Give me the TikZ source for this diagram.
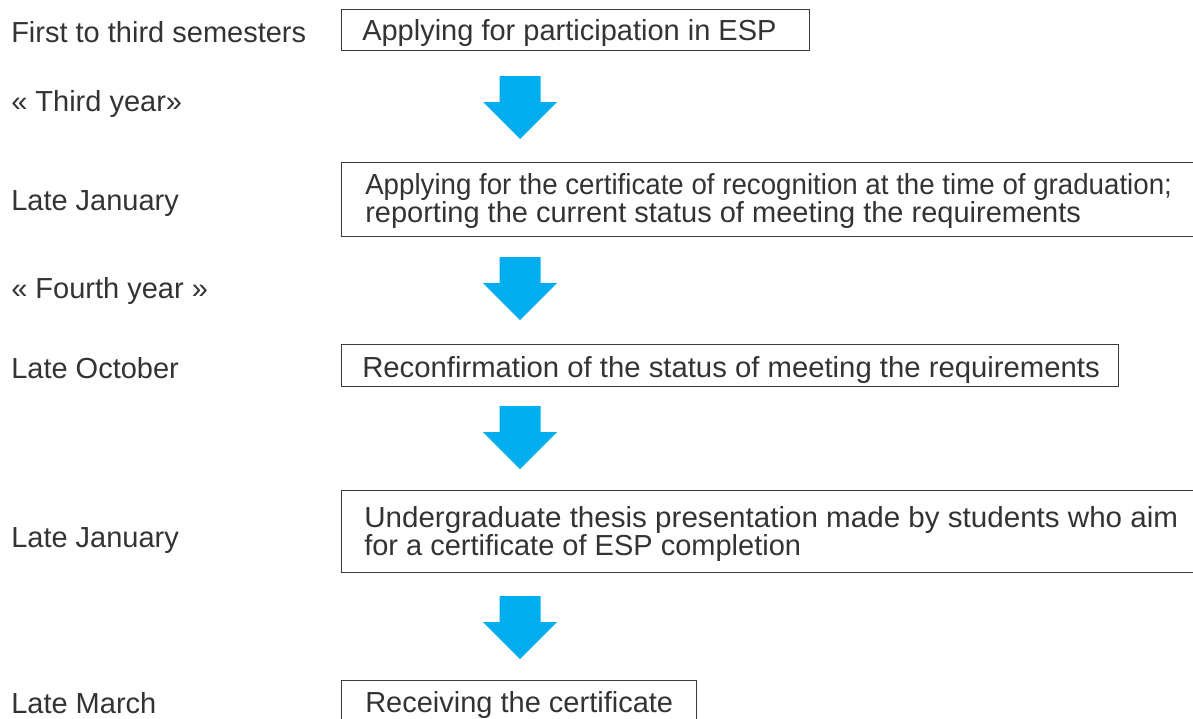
\documentclass[tikz,border=0pt]{standalone}
\usepackage{fontspec}
\setmainfont{Liberation Sans}
\usetikzlibrary{calc}
\definecolor{arrowcyan}{HTML}{00AEEF}
\definecolor{txtgray}{HTML}{333333}
\definecolor{linegray}{HTML}{3A3A3A}
\tikzset{
  box/.style={draw=linegray, line width=1pt, inner sep=0pt, anchor=north west},
  txt/.style={inner sep=0pt, anchor=base west, text=txtgray, font=\fontsize{21.75pt}{21pt}\selectfont, align=left},
  downarrow/.pic={\fill[arrowcyan] (-20.5,0) -- (20.5,0) -- (20.5,26) -- (37,26) -- (0,63) -- (-37,26) -- (-20.5,26) -- cycle;}
}
\begin{document}
\begin{tikzpicture}[x=0.75pt,y=-0.75pt]
\useasboundingbox (0,0) rectangle (1193,718);
\clip (0,0) rectangle (1193,718);
% left labels
\node[txt] (l1) at (11,42) {First to third semesters};
\node[txt] (l2) at (11,111) {« Third year»};
\node[txt] (l3) at (11,210) {Late January};
\node[txt] (l4) at (11,298) {« Fourth year »};
\node[txt] (l5) at (11,378) {Late October};
\node[txt] (l6) at (11,547) {Late January};
\node[txt] (l7) at (11,713) {Late March};
% boxes
\node[box, minimum width=351pt, minimum height=30.75pt] (b1) at (341,9) {};
\node[box, minimum width=644.25pt, minimum height=55.5pt] (b2) at (341,162) {};
\node[box, minimum width=582.75pt, minimum height=31.5pt] (b3) at (341,344) {};
\node[box, minimum width=644.25pt, minimum height=61.5pt] (b4) at (341,490) {};
\node[box, minimum width=266.25pt, minimum height=31.5pt] (b5) at (341,680) {};
% box texts
\node[txt] (t1) at ($(b1.north west)+(21,31)$) {Applying for participation in ESP};
\node[txt] (t2) at ($(b2.north west)+(24,60)$) {\scalebox{0.955}[1]{Applying for the certificate of recognition at the time of graduation;}\\reporting the current status of meeting the requirements};
\node[txt] (t3) at ($(b3.north west)+(21,33)$) {\scalebox{1.01}[1]{Reconfirmation of the status of meeting the requirements}};
\node[txt] (t4) at ($(b4.north west)+(23,65)$) {\scalebox{1.02}[1]{Undergraduate thesis presentation made by students who aim}\\for a certificate of ESP completion};
\node[txt] (t5) at ($(b5.north west)+(24,32)$) {Receiving the certificate};
% arrows
\pic at (520,76) {downarrow};
\pic at (520,257) {downarrow};
\pic at (520,406) {downarrow};
\pic at (520,596) {downarrow};
\end{tikzpicture}
\end{document}
